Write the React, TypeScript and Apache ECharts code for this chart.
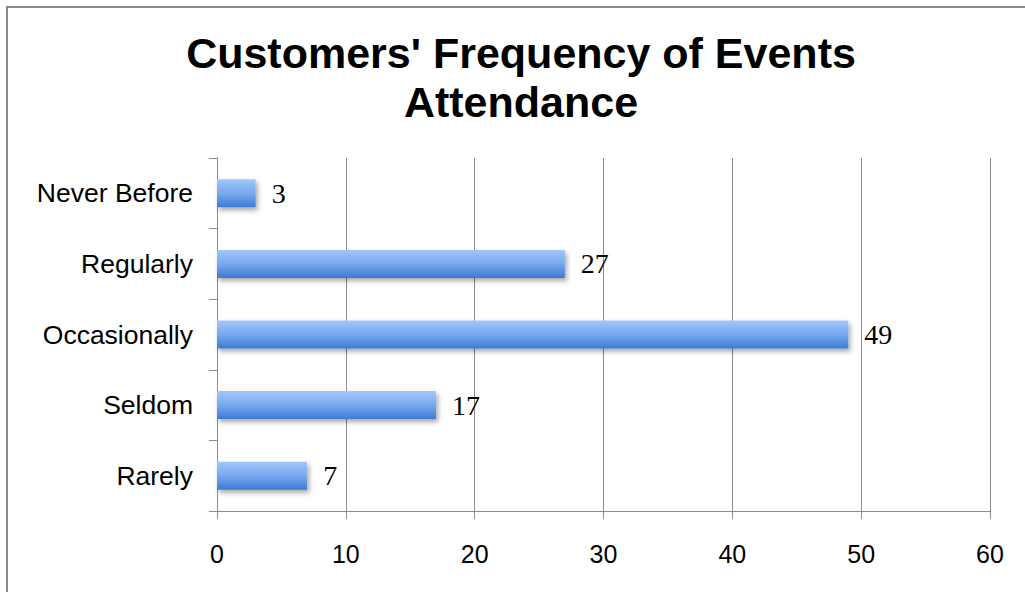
import React, { useEffect, useRef } from "react";
import * as echarts from "echarts";

const categories = ["Rarely", "Seldom", "Occasionally", "Regularly", "Never Before"];
const counts = [7, 17, 49, 27, 3];
const xTicks = [0, 10, 20, 30, 40, 50, 60];

const titleText = "Customers' Frequency of Events\nAttendance";

export default function App() {
  const ref = useRef<HTMLDivElement>(null);

  useEffect(() => {
    if (!ref.current) return;
    const chart = echarts.init(ref.current, undefined, { renderer: "svg" });
    chart.setOption({
      animation: false,
      backgroundColor: "#ffffff",
      graphic: [
        {
          type: "rect",
          shape: { x: 7, y: 7, width: 1200, height: 800 },
          style: { fill: "none", stroke: "#8a8a8a", lineWidth: 2 },
          silent: true,
        },
        {
          type: "text",
          x: 521,
          y: 28,
          silent: true,
          style: {
            text: titleText,
            align: "center",
            verticalAlign: "top",
            fontFamily: "Liberation Sans, Arial, sans-serif",
            fontWeight: "bold",
            fontSize: 43,
            lineHeight: 49,
            fill: "#000000",
          },
        },
      ],
      grid: { left: 217, right: 35, top: 158, bottom: 81, containLabel: false },
      xAxis: {
        type: "value",
        min: xTicks[0],
        max: xTicks[xTicks.length - 1],
        interval: 10,
        axisLine: { show: true, lineStyle: { color: "#8c8c8c", width: 1 } },
        axisTick: { show: true, length: 8, lineStyle: { color: "#8c8c8c" } },
        splitLine: { show: true, lineStyle: { color: "#8c8c8c", width: 1 } },
        axisLabel: {
          margin: 30,
          fontFamily: "Liberation Sans, Arial, sans-serif",
          fontSize: 25,
          color: "#000000",
        },
      },
      yAxis: {
        type: "category",
        data: categories,
        axisLine: { show: true, lineStyle: { color: "#8c8c8c", width: 1 } },
        axisTick: { show: true, length: 8, lineStyle: { color: "#8c8c8c" } },
        splitLine: { show: false },
        axisLabel: {
          margin: 24,
          fontFamily: "Liberation Sans, Arial, sans-serif",
          fontSize: 26.5,
          color: "#000000",
        },
      },
      series: [
        {
          type: "bar",
          data: counts,
          barWidth: 28,
          itemStyle: {
            color: new echarts.graphic.LinearGradient(0, 0, 0, 1, [
              { offset: 0, color: "#a2c6fb" },
              { offset: 0.5, color: "#78a8ee" },
              { offset: 1, color: "#3c7bd3" },
            ]),
            shadowColor: "rgba(0,0,0,0.35)",
            shadowBlur: 5,
            shadowOffsetX: 2,
            shadowOffsetY: 3,
          },
          label: {
            show: true,
            position: "right",
            distance: 16,
            fontFamily: "Liberation Serif, Times New Roman, serif",
            fontSize: 28,
            color: "#000000",
          },
        },
      ],
    });
    return () => chart.dispose();
  }, []);

  return (
    <div
      ref={ref}
      style={{ position: "absolute", left: 0, top: 0, width: 1025, height: 592 }}
    />
  );
}
